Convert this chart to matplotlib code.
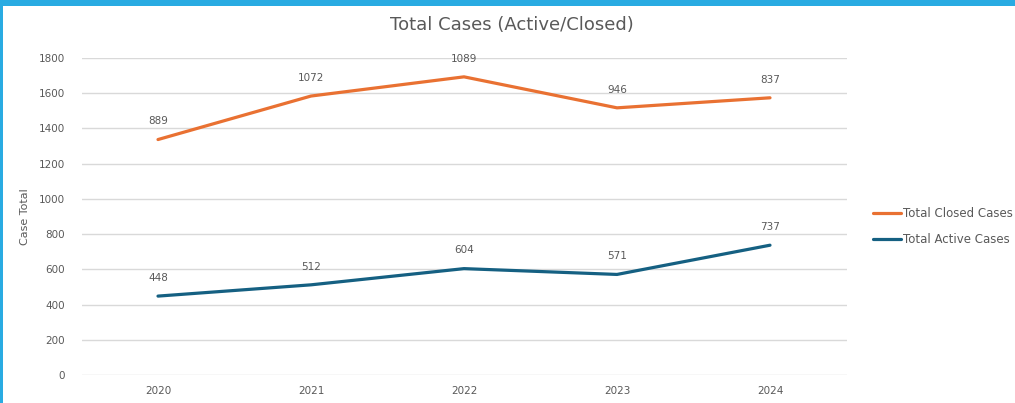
import numpy as np
import matplotlib
matplotlib.use('Agg')
from matplotlib import pyplot as plt
from matplotlib.patches import Rectangle

plt.rcParams['font.family'] = ['DejaVu Sans']

years = ['2020', '2021', '2022', '2023', '2024']
active = [448, 512, 604, 571, 737]
closed = [889, 1072, 1089, 946, 837]

c_closed = '#E97132'
c_active = '#156082'
txt = '#595959'

fig = plt.figure(figsize=(10.15, 4.03), dpi=100)
fig.patch.set_facecolor('white')

# blue frame (top band and left edge)
fig.add_artist(Rectangle((0, 397/403), 1, 6/403, transform=fig.transFigure,
                         color='#29ABE2', lw=0, zorder=10))
fig.add_artist(Rectangle((0, 0), 3/1015, 1, transform=fig.transFigure,
                         color='#29ABE2', lw=0, zorder=10))

ax = fig.add_axes([81.5/1015, 28/403, 765/1015, 317/403])
x = np.arange(len(years))
stacked = np.array(active) + np.array(closed)

l1, = ax.plot(x, stacked, color=c_closed, lw=2.3, solid_capstyle='round')
l2, = ax.plot(x, active, color=c_active, lw=2.3, solid_capstyle='round')

for xi, yi, v in zip(x, stacked, closed):
    ax.annotate(str(v), (xi, yi), xytext=(0, 9.5), textcoords='offset points',
                ha='center', va='bottom', fontsize=7.5, color=txt)
for xi, yi, v in zip(x, active, active):
    ax.annotate(str(v), (xi, yi), xytext=(0, 9.5), textcoords='offset points',
                ha='center', va='bottom', fontsize=7.5, color=txt)

ax.set_xlim(-0.5, len(years) - 0.5)
ax.set_ylim(0, 1800)
ax.set_yticks(range(0, 1801, 200))
ax.set_xticks(x)
ax.set_xticklabels(years)
ax.grid(axis='y', color='#D9D9D9', lw=1)
ax.set_axisbelow(True)
for s in ax.spines.values():
    s.set_visible(False)
ax.tick_params(length=0, labelsize=7.5, labelcolor=txt)
ax.tick_params(axis='y', pad=12)
ax.tick_params(axis='x', pad=8)

ax.set_ylabel('Case Total', fontsize=8, color=txt, labelpad=6)
fig.text(512/1015, 1 - 25/403, 'Total Cases (Active/Closed)', ha='center',
         va='center', fontsize=13, color=txt)

fig.legend([l1, l2], ['Total Closed Cases', 'Total Active Cases'],
           loc='center left', bbox_to_anchor=(862/1015, 1 - 226.5/403),
           frameon=False, fontsize=8.5, labelcolor=txt, handlelength=2.4,
           handletextpad=0.15, labelspacing=1.15)

fig.savefig('out.png', dpi=100)
